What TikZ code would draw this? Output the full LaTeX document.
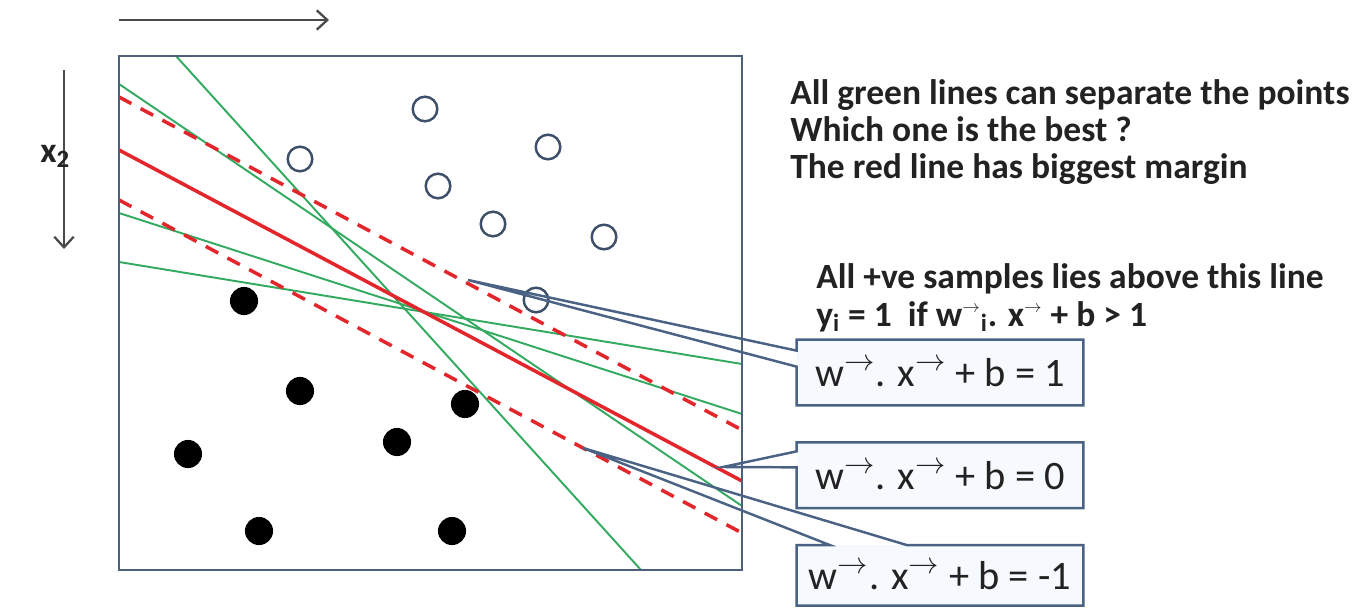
\documentclass[tikz,border=0pt]{standalone}
\usepackage{fontspec}
\setmainfont{Carlito}
\usetikzlibrary{arrows.meta,positioning,calc}
\definecolor{FrameBlue}{HTML}{4D6079}
\definecolor{PointBlue}{HTML}{3E5069}
\definecolor{CallBlue}{HTML}{4A6283}
\definecolor{CallFill}{HTML}{F6F9FD}
\definecolor{LineGreen}{HTML}{33AA60}
\definecolor{MarginRed}{HTML}{E3262C}
\definecolor{ArrowGray}{HTML}{4A4A4A}
\definecolor{TextGray}{HTML}{222222}
\tikzset{
  plotframe/.style = {draw=FrameBlue, line width=1.6pt},
  sepline/.style   = {draw=LineGreen, line width=1.1pt},
  hyper/.style     = {draw=MarginRed, line width=2pt},
  marg/.style      = {draw=MarginRed, line width=2pt, dash pattern=on 8pt off 6pt},
  possample/.style = {circle, draw=PointBlue, line width=1.4pt, minimum size=14pt,
                      inner sep=0pt},
  negsample/.style = {circle, fill=black, minimum size=16pt, inner sep=0pt},
  eqbox/.style     = {fill=CallFill, minimum width=5.72cm, minimum height=1.3cm,
                      font=\fontsize{23}{23}\selectfont, text=TextGray, inner sep=0pt},
  callout/.style   = {draw=CallBlue, line width=1.4pt, line join=miter},
  axisarrow/.style = {-{Straight Barb[length=6pt, width=11pt]}, draw=ArrowGray,
                      line width=1.3pt},
  note/.style      = {font=\fontsize{20.2}{20}\selectfont\bfseries, text=TextGray,
                      anchor=base west, inner sep=0pt},
}

\begin{document}
\begin{tikzpicture}[x=0.02cm, y=-0.02cm, node distance=0.74cm]
  \useasboundingbox (0,0) rectangle (1358,608);
  \coordinate (x1s) at (119,20);
  \coordinate (x1e) at (329,20);
  \coordinate (x2s) at (64,70);
  \coordinate (x2e) at (64,249);
  \draw[axisarrow] (x1s) -- (x1e);
  \draw[axisarrow] (x2s) -- (x2e);
  \node[note] (xlab) at (40,162) {x\textsubscript{2}};

  \coordinate (fnw) at (119,56);
  \coordinate (fse) at (742,570);
  \coordinate (ua) at (119,97);   \coordinate (ub) at (742,430);
  \coordinate (ha) at (119,150);  \coordinate (hb) at (742,481);
  \coordinate (la) at (119,200);  \coordinate (lb) at (742,533);
  \coordinate (s1a) at (176,56);  \coordinate (s1b) at (641,570);
  \coordinate (s2a) at (119,84);  \coordinate (s2b) at (742,506);
  \coordinate (s3a) at (119,213); \coordinate (s3b) at (742,414);
  \coordinate (s4a) at (119,262); \coordinate (s4b) at (742,364);
  \draw[sepline] (s1a) -- (s1b);
  \draw[sepline] (s2a) -- (s2b);
  \draw[sepline] (s3a) -- (s3b);
  \draw[sepline] (s4a) -- (s4b);
  \draw[marg] (ua) -- (ub);
  \draw[marg] (la) -- (lb);
  \draw[hyper] (ha) -- (hb);
  \draw[plotframe] (fnw) rectangle (fse);

  \node[possample] (p1) at (425,109) {};
  \node[possample] (p2) at (300,159) {};
  \node[possample] (p3) at (548,147) {};
  \node[possample] (p4) at (438,186) {};
  \node[possample] (p5) at (493,224) {};
  \node[possample] (p6) at (604,237) {};
  \node[possample] (p7) at (536,300) {};
  \node[negsample] (n1) at (244,301) {};
  \node[negsample] (n2) at (300,391) {};
  \node[negsample] (n3) at (465,404) {};
  \node[negsample] (n4) at (397,442) {};
  \node[negsample] (n5) at (188,454) {};
  \node[negsample] (n6) at (259,531) {};
  \node[negsample] (n7) at (452,531) {};

  \node[note] (q1) at (790,105) {All green lines can separate the points};
  \node[note] (q2) at (790,141) {Which one is the best ?};
  \node[note] (q3) at (790,178) {The red line has biggest margin};
  \node[note] (r1) at (816,288) {All +ve samples lies above this line};
  \node[note] (r2) at (816,326)
    {y\textsubscript{i} = 1\ \ if w$^{\scriptscriptstyle\rightarrow}$\textsubscript{i}.
     x$^{\scriptscriptstyle\rightarrow}$ + b > 1};

  \node[eqbox] (e1) at (940,372.5) {w$^{\rightarrow}$. x$^{\rightarrow}$ + b = 1};
  \node[eqbox, below=of e1] (e2) {w$^{\rightarrow}$. x$^{\rightarrow}$ + b = 0};
  \node[eqbox, below=of e2, minimum height=1.2cm] (e3) {w$^{\rightarrow}$. x$^{\rightarrow}$ + b = -1};
  \coordinate (t1) at (468,280);
  \coordinate (t2) at (723,467);
  \coordinate (t3) at (583,448);
  \draw[callout] (e1.north west) -- (e1.north east) -- (e1.south east) -- (e1.south west)
    -- ($(e1.north west)+(0,27)$) -- (t1) -- ($(e1.north west)+(0,11)$) -- cycle;
  \draw[callout] (e2.north west) -- (e2.north east) -- (e2.south east) -- (e2.south west)
    -- ($(e2.north west)+(0,25)$) -- (t2) -- ($(e2.north west)+(0,9)$) -- cycle;
  \draw[callout] (e3.north west) -- ($(e3.north west)+(33,0)$) -- (t3)
    -- ($(e3.north west)+(110,0)$) -- (e3.north east) -- (e3.south east)
    -- (e3.south west) -- cycle;
\end{tikzpicture}
\end{document}
